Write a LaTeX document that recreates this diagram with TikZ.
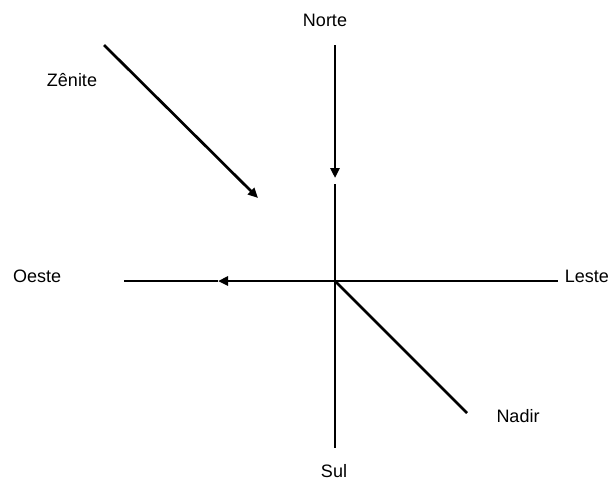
\documentclass[tikz,border=0pt]{standalone}
\usepackage{fontspec}
\setmainfont{Liberation Sans}
\usetikzlibrary{arrows.meta}
\begin{document}
\begin{tikzpicture}[x=1pt,y=-1pt,
  axis/.style={line width=2.7pt},
  arr/.style={line width=2.7pt,-{Triangle[length=10pt,width=9pt]}},
  lbl/.style={font=\fontsize{18}{21}\selectfont,inner sep=0pt}]
\useasboundingbox (0,0) rectangle (612,483);
% coordinates
\coordinate (C) at (335,281);
\coordinate (Ntop) at (335,45);
\coordinate (Ntip) at (335,178);
\coordinate (Nlow) at (335,184);
\coordinate (Sbot) at (335,448);
\coordinate (Wend) at (124,281);
\coordinate (Wtip) at (218,281);
\coordinate (Eend) at (558,281);
\coordinate (Zst) at (104,45);
\coordinate (Ztip) at (258,198);
\coordinate (Nd) at (467,413);
% lines
\draw[arr] (Ntop) -- (Ntip);
\draw[axis] (Nlow) -- (Sbot);
\draw[axis] (Wend) -- (Wtip);
\draw[arr] (C) -- (Wtip);
\draw[axis] (C) -- (Eend);
\draw[arr] (Zst) -- (Ztip);
\draw[axis] (C) -- (Nd);
% labels
\node[lbl] (norte) at (325,20) {Norte};
\node[lbl,anchor=west] (oeste) at (13,276) {Oeste};
\node[lbl,anchor=east] (leste) at (609,276) {Leste};
\node[lbl] (sul) at (334,471) {Sul};
\node[lbl] (zenite) at (72,80) {Zênite};
\node[lbl] (nadir) at (518,416) {Nadir};
\end{tikzpicture}
\end{document}
